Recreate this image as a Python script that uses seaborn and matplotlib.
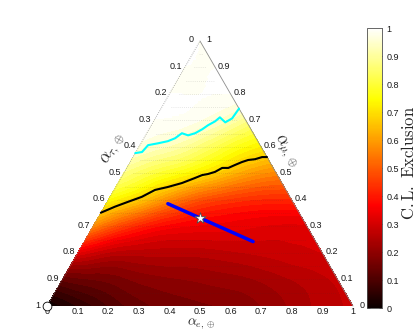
import numpy as np
import matplotlib
matplotlib.use("Agg")
import matplotlib.pyplot as plt
import matplotlib.tri as mtri
import seaborn as sns
import pandas as pd

sns.set_theme(style="white")
plt.rcParams["font.family"] = ["Liberation Sans", "DejaVu Sans"]
plt.rcParams["mathtext.fontset"] = "cm"

# ---------------- data ----------------
# C.L. exclusion read on a ternary grid: rows of constant alpha_mu,
# entries for alpha_e = 0, 0.1, ... , 1 - alpha_mu
mu_rows = [0.0, 0.1, 0.2, 0.3, 0.4, 0.5, 0.6, 0.7, 0.8, 0.9, 1.0]
cl_row_00 = [0.0, 0.05, 0.10, 0.14, 0.16, 0.17, 0.18, 0.20, 0.23, 0.26, 0.28]
cl_row_01 = [0.13, 0.15, 0.17, 0.19, 0.20, 0.21, 0.22, 0.24, 0.26, 0.28]
cl_row_02 = [0.32, 0.27, 0.26, 0.26, 0.26, 0.27, 0.28, 0.29, 0.30]
cl_row_03 = [0.56, 0.45, 0.38, 0.35, 0.34, 0.33, 0.32, 0.32]
cl_row_04 = [0.74, 0.66, 0.56, 0.48, 0.44, 0.42, 0.42]
cl_row_05 = [0.87, 0.80, 0.74, 0.67, 0.60, 0.56]
cl_row_06 = [0.96, 0.92, 0.86, 0.78, 0.72]
cl_row_07 = [1.0, 0.99, 0.95, 0.88]
cl_row_08 = [1.0, 1.0, 1.0]
cl_row_09 = [1.0, 1.0]
cl_row_10 = [1.0]
cl_rows = [cl_row_00, cl_row_01, cl_row_02, cl_row_03, cl_row_04, cl_row_05,
           cl_row_06, cl_row_07, cl_row_08, cl_row_09, cl_row_10]

# contour lines (alpha_e, alpha_mu)
black_e = [0.0, 0.035, 0.068, 0.104, 0.134, 0.170, 0.209, 0.242, 0.260, 0.277,
           0.296, 0.312, 0.332, 0.348, 0.365, 0.382, 0.403, 0.422, 0.438]
black_mu = [0.352, 0.375, 0.393, 0.412, 0.438, 0.449, 0.464, 0.483, 0.494, 0.498,
            0.506, 0.521, 0.521, 0.532, 0.543, 0.551, 0.554, 0.562, 0.562]
cyan_e = [0.0, 0.020, 0.027, 0.056, 0.084, 0.102, 0.115, 0.139, 0.158, 0.174,
          0.185, 0.201, 0.209, 0.236, 0.251, 0.255]
cyan_mu = [0.577, 0.581, 0.607, 0.614, 0.622, 0.633, 0.652, 0.644, 0.652, 0.667,
           0.682, 0.697, 0.712, 0.693, 0.708, 0.745]
blue_e = [0.202, 0.552]
blue_mu = [0.386, 0.243]
star_e = [1 / 3]
star_mu = [1 / 3]
corner_e = [0.0]
corner_mu = [0.0]

tick_vals = [0.0, 0.1, 0.2, 0.3, 0.4, 0.5, 0.6, 0.7, 0.8, 0.9, 1.0]
tick_labels = ["0", "0.1", "0.2", "0.3", "0.4", "0.5", "0.6", "0.7", "0.8", "0.9", "1"]
cbar_ticks = [0.0, 0.1, 0.2, 0.3, 0.4, 0.5, 0.6, 0.7, 0.8, 0.9, 1.0]
cbar_labels = ["0", "0.1", "0.2", "0.3", "0.4", "0.5", "0.6", "0.7", "0.8", "0.9", "1"]

H = np.sqrt(3) / 2


def to_xy(e, mu):
    e = np.asarray(e, float)
    mu = np.asarray(mu, float)
    return e + mu / 2, mu * H


# ---------------- figure ----------------
W, Hpx = 415, 331
fig = plt.figure(figsize=(W / 100, Hpx / 100), dpi=100)
ax = fig.add_axes([47 / W, 25 / Hpx, 306 / W, 306 * H / Hpx])
ax.set_xlim(0, 1)
ax.set_ylim(0, H)
ax.axis("off")

# field
pe, pm, pz = [], [], []
for mu, row in zip(mu_rows, cl_rows):
    for i, v in enumerate(row):
        pe.append(round(i * 0.1, 3))
        pm.append(mu)
        pz.append(v)
px, py = to_xy(pe, pm)
tri = mtri.Triangulation(px, py)
refiner = mtri.UniformTriRefiner(tri)
tri_r, z_r = refiner.refine_field(np.array(pz), subdiv=4)
z_r = np.clip(z_r, 0, 1)
levels = np.linspace(0, 1, 41)
cf = ax.tricontourf(tri_r, z_r, levels=levels, cmap="hot", vmin=0, vmax=1, extend="both")

# horizontal dotted grid
for k in range(1, 20):
    mu = k * 0.05
    ax.plot([mu / 2 + 0.03, 1 - mu / 2 - 0.03], [mu * H, mu * H], ls=(0, (1, 2)), lw=0.5,
            color="0.2", alpha=0.22, zorder=2)

# triangle edges
ax.plot([0, 0.5], [0, H], ls=(0, (1, 1.5)), lw=0.6, color="0.6", zorder=3, clip_on=False)
ax.plot([0.5, 1], [H, 0], ls="-", lw=0.6, color="0.55", zorder=3, clip_on=False)

# contour lines
bx, by = to_xy(black_e, black_mu)
sns.lineplot(x=bx, y=by, sort=False, estimator=None, ax=ax, color="black", lw=1.5, zorder=4)
cx, cy = to_xy(cyan_e, cyan_mu)
sns.lineplot(x=cx, y=cy, sort=False, estimator=None, ax=ax, color="#00ffff", lw=1.5, zorder=4)
blx, bly = to_xy(blue_e, blue_mu)
sns.lineplot(x=blx, y=bly, sort=False, estimator=None, ax=ax, color="#0000ff", lw=2.5, zorder=5)
sx, sy = to_xy(star_e, star_mu)
sns.scatterplot(x=sx, y=sy, ax=ax, marker="*", s=70, color="white", edgecolor="0.3",
                linewidth=0.6, zorder=6)
ox, oy = to_xy(corner_e, corner_mu)
sns.scatterplot(x=ox, y=oy, ax=ax, marker="o", s=40, color="white", edgecolor="black",
                linewidth=0.6, zorder=6, clip_on=False)

# tick labels
u = 1 / 306.0
fs = 6.5
for v, lab in zip(tick_vals, tick_labels):
    # bottom: alpha_e
    ax.text(v, -1.5 * u, lab, ha="center", va="top", fontsize=fs, color="0.1", clip_on=False)
    # left: alpha_tau (0 at apex, 1 at bottom-left)
    mu = 1 - v
    lx, ly = to_xy(0, mu)
    ax.text(lx - 9 * u, ly + 1 * u, lab, ha="center", va="center", fontsize=fs,
            color="0.1", clip_on=False)
    # right: alpha_mu (1 at apex, 0 at bottom-right)
    rx, ry = to_xy(1 - v, v)
    ax.text(rx + 9 * u, ry + 1 * u, lab, ha="center", va="center", fontsize=fs,
            color="0.1", clip_on=False)

# axis titles
ax.text(0.503, -18.8 * u, r"$\alpha_{e,\oplus}$", ha="center", va="baseline", fontsize=10,
        clip_on=False)
ax.text(0.219, 0.513, r"$\alpha_{\tau,\oplus}$", ha="center", va="center", fontsize=12,
        rotation=60, rotation_mode="anchor", clip_on=False)
ax.text(0.778, 0.507, r"$\alpha_{\mu,\oplus}$", ha="center", va="center", fontsize=12,
        rotation=-60, rotation_mode="anchor", clip_on=False)

# colorbar
cax = fig.add_axes([367 / W, 23 / Hpx, 15 / W, 280 / Hpx])
sm = matplotlib.cm.ScalarMappable(cmap="hot", norm=matplotlib.colors.Normalize(0, 1))
cb = fig.colorbar(sm, cax=cax)
cb.set_ticks(cbar_ticks)
cb.set_ticklabels(cbar_labels)
cax.tick_params(direction="in", length=2, width=0.5, labelsize=fs, pad=3,
                left=True, right=True, colors="0.1")
cb.outline.set_linewidth(0.6)
cb.outline.set_edgecolor("0.3")
fig.text(408 / W, 1 - 163 / Hpx, r"$\mathrm{C.L.\ Exclusion}$", rotation=90,
         ha="center", va="center", fontsize=12)

fig.savefig("out.png", dpi=100)
